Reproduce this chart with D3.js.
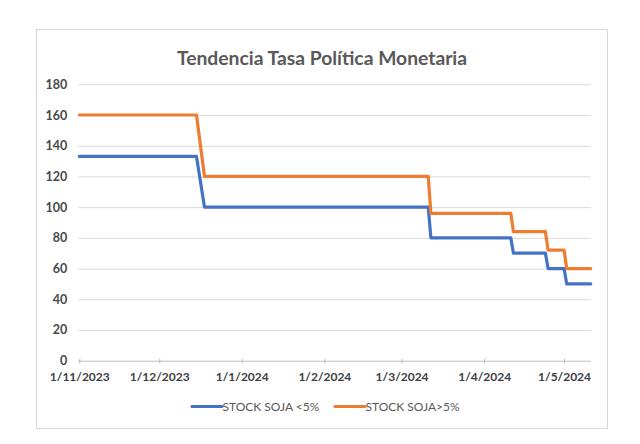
<!DOCTYPE html>
<html><head><meta charset="utf-8">
<script src="https://cdn.jsdelivr.net/npm/d3@7"></script>
<style>body{margin:0;background:#fff} svg{display:block}</style>
</head><body><svg id="c" width="640" height="444"></svg>
<script>
// ---- data ----
const title = "Tendencia Tasa Política Monetaria";
const dates = ["2023-11-01","2023-12-15","2023-12-18","2024-03-11","2024-03-12","2024-04-11","2024-04-12","2024-04-24","2024-04-25","2024-05-01","2024-05-02","2024-05-11"];
const stockBelow5 = [133,133,100,100,80,80,70,70,60,60,50,50];
const stockAbove5 = [160,160,120,120,96,96,84,84,72,72,60,60];
const seriesNames = ["STOCK SOJA <5%","STOCK SOJA>5%"];
const seriesColors = ["#4472C4","#ED7D31"];
const yTicks = [0,20,40,60,80,100,120,140,160,180];
const xTickDates = ["2023-11-01","2023-12-01","2024-01-01","2024-02-01","2024-03-01","2024-04-01","2024-05-01"];
const xTickLabels = ["1/11/2023","1/12/2023","1/1/2024","1/2/2024","1/3/2024","1/4/2024","1/5/2024"];

// ---- chart ----
const parse = d3.timeParse("%Y-%m-%d");
const svg = d3.select("#c");
const font = "Lato, 'Open Sans', sans-serif";

svg.append("rect").attr("x",0).attr("y",0).attr("width",640).attr("height",444).attr("fill","#fff");
svg.append("rect").attr("x",36.5).attr("y",29.5).attr("width",571).attr("height",399)
  .attr("fill","#fff").attr("stroke","#D9D9D9");

svg.append("text").attr("x",322).attr("y",64.5).attr("text-anchor","middle")
  .attr("font-family",font).attr("font-weight","bold").attr("font-size",19.3)
  .attr("fill","#595959").text(title);

const L = 79.3, R = 590.7, T = 84.3, B = 360.7;
const x = d3.scaleTime().domain([parse("2023-11-01"), parse("2024-05-11")]).range([L, R]);
const y = d3.scaleLinear().domain([0,180]).range([B, T]);

// grid + y labels
const gy = svg.append("g").attr("transform",`translate(${L-1},0)`)
  .call(d3.axisLeft(y).tickValues(yTicks).tickSize(-(R-L+1)).tickPadding(11).tickFormat(d3.format("d")));
gy.select(".domain").remove();
gy.selectAll(".tick line").attr("stroke","#D9D9D9").attr("stroke-width",1)
  .filter(d => d === 0).remove();
gy.selectAll(".tick text").attr("font-family",font).attr("font-size",12.5)
  .attr("font-weight","bold").attr("fill","#484848");

// x axis
const gx = svg.append("g").attr("transform",`translate(0,${B})`)
  .call(d3.axisBottom(x).tickValues(xTickDates.map(parse)).tickSize(3).tickPadding(8.5)
    .tickFormat((d,i) => xTickLabels[i]));
gx.select(".domain").attr("stroke","#BFBFBF").attr("d",`M${L-1},0.5H${R}`);
gx.selectAll(".tick line").attr("stroke","#BFBFBF").attr("y1",-2);
gx.selectAll(".tick text").attr("font-family",font).attr("font-size",12)
  .attr("font-weight","bold").attr("fill","#404040");

// lines
const line = d3.line().x(d => x(d[0])).y(d => y(d[1]));
[stockBelow5, stockAbove5].forEach((vals, k) => {
  const pts = dates.map((d,i) => [parse(d), vals[i]]);
  svg.append("path").datum(pts).attr("d", line).attr("fill","none")
    .attr("stroke", seriesColors[k]).attr("stroke-width",3.2)
    .attr("stroke-linejoin","round").attr("stroke-linecap","round");
});

// legend
const legendX = [192, 335];
seriesNames.forEach((name,k) => {
  const g = svg.append("g").attr("transform",`translate(${legendX[k]},406.5)`);
  g.append("line").attr("x1",0).attr("x2",30).attr("y1",0).attr("y2",0)
    .attr("stroke",seriesColors[k]).attr("stroke-width",3.2).attr("stroke-linecap","round");
  g.append("text").attr("x",30.5).attr("y",0).attr("dy","0.36em")
    .attr("font-family",font).attr("font-size",12).attr("fill","#595959").text(name);
});
</script>
</body></html>
